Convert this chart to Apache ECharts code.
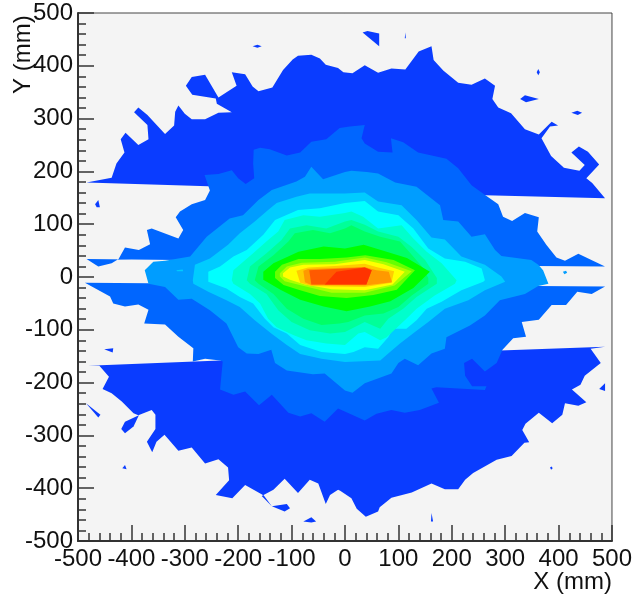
<!DOCTYPE html>
<html>
<head>
<meta charset="utf-8">
<style>html,body{margin:0;padding:0;background:#fff}#c{width:635px;height:599px}</style>
<script src="https://cdn.jsdelivr.net/npm/echarts@6/dist/echarts.min.js"></script>
</head>
<body>
<div id="c"></div>
<script>
const xTicks = [-500,500,100];
const yTicks = [-500,500,100];

const band1Top = [[-484,179],[-437,188],[-428,215],[-413,236],[-420,261],[-411,273],[-387,250],[-368,261],[-370,288],[-395,312],[-387,321],[-370,307],[-337,271],[-320,287],[-318,313],[-312,325],[-300,309],[-287,299],[-262,299],[-237,311],[-212,312],[-240,328],[-242,338],[-286,345],[-298,362],[-287,379],[-262,383],[-237,340],[-203,362],[-212,388],[-187,384],[-173,361],[-162,352],[-136,359],[-116,392],[-98,412],[-88,419],[-63,421],[-47,414],[-36,402],[-13,396],[-3,388],[14,386],[37,401],[62,387],[87,395],[113,393],[138,427],[162,437],[166,411],[184,391],[212,368],[237,364],[262,376],[281,362],[276,337],[287,321],[311,310],[337,280],[363,270],[387,294],[399,287],[384,285],[368,263],[386,229],[410,207],[439,201],[449,212],[424,236],[438,247],[455,237],[476,213],[452,187],[463,178],[487,149],[263,155],[-256,172]];
const band1Bottom = [[487,-132],[460,-136],[479,-163],[449,-187],[441,-204],[425,-213],[452,-237],[437,-244],[412,-239],[407,-261],[388,-277],[363,-257],[338,-278],[332,-290],[345,-313],[336,-314],[312,-339],[284,-346],[240,-371],[225,-384],[212,-402],[187,-402],[162,-391],[125,-408],[87,-418],[65,-436],[62,-444],[39,-454],[22,-439],[12,-419],[-9,-405],[-13,-403],[-28,-413],[-36,-430],[-50,-391],[-66,-384],[-88,-409],[-113,-382],[-134,-403],[-156,-415],[-137,-434],[-152,-414],[-187,-394],[-211,-419],[-242,-413],[-217,-385],[-219,-361],[-237,-345],[-262,-353],[-287,-323],[-312,-329],[-338,-299],[-353,-312],[-361,-332],[-371,-312],[-355,-288],[-355,-261],[-362,-252],[-387,-262],[-396,-258],[-418,-236],[-437,-220],[-454,-212],[-442,-189],[-460,-168],[-481,-168],[-234,-158]];
const island1 = [[-386,-262],[-396,-283],[-412,-296],[-419,-288],[-412,-274]];
const island2 = [[-137,-434],[-109,-430],[-103,-438],[-113,-444]];
const island3 = [[-485,-239],[-458,-261],[-462,-266]];
const island4 = [[-451,-137],[-434,-135],[-435,-143]];
const island5 = [[-417,-362],[-412,-356],[-409,-364]];
const island6 = [[-78,-463],[-63,-455],[-54,-463],[-63,-465]];
const island7 = [[162,-447],[165,-463],[161,-463]];
const island8 = [[384,-361],[387,-359],[389,-362],[386,-365]];
const island9 = [[476,-212],[487,-201],[487,-216]];
const island10 = [[-468,138],[-462,146],[-459,132],[-465,132]];
const island11 = [[-173,437],[-164,440],[-156,437],[-164,434]];
const island12 = [[33,463],[42,466],[64,461],[64,437]];
const island13 = [[113,463],[114,452],[112,452]];
const island14 = [[362,394],[365,388],[362,382],[359,388]];
const island15 = [[328,337],[337,344],[363,337],[339,331]];
const island16 = [[424,311],[435,315],[444,311],[436,307]];

const band2Top = [[-484,34],[-462,20],[-437,26],[-424,34],[-412,56],[-386,51],[-365,62],[-371,89],[-362,92],[-312,73],[-303,89],[-317,113],[-309,124],[-287,138],[-262,146],[-253,164],[-263,193],[-237,195],[-212,202],[-200,187],[-186,176],[-170,187],[-172,215],[-171,241],[-159,245],[-141,242],[-109,230],[-84,236],[-63,256],[-35,261],[-10,282],[9,285],[37,288],[31,263],[37,253],[62,237],[89,236],[86,263],[109,255],[137,236],[190,224],[212,206],[237,174],[263,155],[287,138],[296,114],[313,106],[337,121],[363,113],[360,86],[377,61],[396,37],[412,31],[437,44],[487,20],[359,21],[-315,32]];
const band2Bottom = [[-487,-11],[-440,-37],[-434,-50],[-412,-56],[-387,-52],[-368,-62],[-376,-88],[-337,-90],[-312,-113],[-284,-135],[-285,-160],[-262,-155],[-234,-158],[-229,-160],[-234,-213],[-209,-223],[-187,-217],[-161,-243],[-137,-223],[-106,-257],[-84,-264],[-63,-258],[-38,-274],[-13,-249],[9,-259],[37,-272],[59,-259],[87,-252],[112,-257],[140,-252],[176,-238],[162,-211],[171,-209],[262,-214],[265,-207],[238,-207],[225,-187],[223,-163],[238,-155],[262,-179],[284,-163],[295,-138],[315,-116],[339,-113],[331,-85],[363,-81],[387,-53],[414,-53],[435,-28],[462,-32],[487,-18],[359,-17],[-368,-12]];

const band3 = [[-375,13],[-359,29],[-337,31],[-290,39],[-259,76],[-216,111],[-191,117],[-162,146],[-137,165],[-91,181],[-75,190],[-63,209],[-41,185],[0,199],[12,201],[41,199],[62,196],[94,179],[134,171],[178,136],[184,108],[212,105],[237,76],[262,81],[281,51],[293,40],[349,32],[362,23],[371,13],[381,-13],[362,-17],[337,-32],[290,-44],[262,-73],[234,-92],[190,-114],[187,-136],[162,-145],[137,-167],[112,-155],[100,-163],[87,-183],[37,-201],[14,-219],[0,-215],[-38,-183],[-60,-184],[-109,-177],[-131,-163],[-138,-138],[-162,-146],[-184,-145],[-200,-133],[-222,-88],[-253,-63],[-287,-41],[-312,-43],[-337,-19],[-368,-13]];
const band3Dot = [[408,10],[414,12],[416,8],[411,5]];
const band4 = [[-285,-6],[-281,23],[-253,35],[-219,61],[-197,83],[-169,105],[-144,127],[-128,140],[-91,152],[-66,158],[-25,158],[0,158],[37,160],[62,143],[106,136],[134,108],[162,75],[187,71],[218,39],[262,23],[293,1],[300,-9],[262,-25],[231,-44],[187,-60],[156,-85],[131,-104],[103,-126],[81,-145],[66,-158],[0,-161],[-44,-155],[-84,-146],[-109,-129],[-138,-107],[-169,-82],[-197,-57],[-222,-44],[-256,-28],[-284,-13]];
const band4Dot = [[-316,13],[-304,14],[-303,11],[-314,11]];
const band5 = [[-256,-6],[-256,10],[-234,20],[-209,39],[-184,51],[-153,80],[-131,108],[-88,127],[-47,130],[0,140],[37,144],[62,124],[100,117],[128,92],[156,54],[187,35],[225,29],[256,16],[262,-6],[259,-9],[218,-25],[181,-47],[153,-60],[134,-82],[115,-98],[90,-98],[81,-114],[62,-136],[37,-133],[16,-142],[0,-146],[-44,-142],[-84,-129],[-109,-107],[-134,-95],[-150,-79],[-172,-50],[-197,-38],[-222,-22],[-256,-9]];
const band6 = [[-212,-6],[-209,13],[-172,45],[-144,70],[-125,86],[-113,108],[-78,117],[-47,114],[0,121],[12,124],[34,114],[62,92],[106,98],[128,73],[153,48],[181,26],[209,-6],[206,-13],[168,-35],[134,-60],[115,-79],[78,-114],[66,-120],[37,-104],[25,-107],[0,-129],[-35,-126],[-72,-120],[-97,-110],[-128,-95],[-144,-79],[-159,-50],[-178,-32],[-209,-13]];
const band7 = [[-184,-6],[-178,20],[-147,45],[-119,70],[-103,92],[-72,98],[-35,92],[0,105],[12,108],[37,99],[62,86],[100,76],[125,57],[150,32],[172,-2],[172,-13],[134,-38],[109,-60],[81,-79],[66,-98],[37,-85],[12,-98],[0,-104],[-28,-107],[-66,-101],[-100,-85],[-125,-63],[-147,-32],[-178,-13]];
const band8 = [[-169,-6],[-162,20],[-134,41],[-106,67],[-94,83],[-60,89],[-28,83],[0,92],[12,98],[37,86],[66,76],[103,67],[125,42],[144,20],[156,-2],[156,-13],[125,-35],[100,-57],[72,-69],[37,-73],[6,-85],[-10,-88],[-44,-91],[-78,-79],[-109,-60],[-134,-32],[-162,-13]];
const band9 = [[-153,10],[-134,26],[-87,48],[-40,58],[0,54],[35,61],[78,48],[116,36],[159,10],[128,-21],[85,-46],[47,-56],[3,-65],[-40,-56],[-84,-43],[-121,-24],[-153,-5]];
const band10 = [[-131,10],[-118,23],[-87,34],[-47,34],[3,37],[38,41],[91,32],[131,13],[97,-24],[53,-34],[3,-40],[-47,-36],[-87,-24],[-115,-15],[-131,-2]];
const band11 = [[-122,7],[-109,20],[-81,27],[-19,29],[37,37],[78,28],[125,11],[93,-16],[37,-30],[-25,-30],[-81,-16],[-113,-8],[-122,1]];
const band12 = [[-116,7],[-103,18],[-78,23],[-19,24],[37,32],[72,24],[112,10],[89,-14],[37,-25],[-25,-23],[-75,-14],[-103,-5],[-116,1]];
const band13 = [[-91,12],[-69,18],[-19,21],[37,25],[62,18],[92,11],[87,-11],[37,-19],[-25,-18],[-63,-17],[-84,-11]];
const band14 = [[-78,12],[-69,15],[37,19],[59,13],[82,10],[88,-10],[37,-16],[-63,-15],[-75,-10]];
const band15 = [[-67,13],[37,18],[50,13],[40,-14],[-63,-14]];
const band16 = [[-16,10],[37,18],[50,13],[40,-14],[-38,-14]];

const palette = ['#0a3cff','#0066ff','#009dff','#00ccff','#00ffff','#00ffcc','#00ff99','#00ff66','#00ff00','#66ff00','#aaff00','#ffff00','#ffcc00','#ff9900','#ff5a00','#ff3300'];

const layers = [
  [band1Top,0],[band1Bottom,0],[island1,0],[island2,0],[island3,0],[island4,0],[island5,0],[island6,0],[island7,0],[island8,0],[island9,0],[island10,0],[island11,0],[island12,0],[island13,0],[island14,0],[island15,0],[island16,0],
  [band2Top,1],[band2Bottom,1],[band3,2],[band3Dot,2],[band4,3],[band4Dot,3],[band5,4],[band6,5],[band7,6],[band8,7],[band9,8],[band10,9],[band11,10],[band12,11],[band13,12],[band14,13],[band15,14],[band16,15]
];

const chart = echarts.init(document.getElementById('c'), null, {renderer:'canvas'});
const labelFont = {color:'#111', fontFamily:'Liberation Sans, Arial, sans-serif', fontSize:24};
function axis(extra, t){
  return Object.assign({
    type:'value', min:t[0], max:t[1], interval:t[2],
    axisLine:{show:true, onZero:false, lineStyle:{color:'#333', width:2}},
    axisTick:{show:true, inside:true, length:16, lineStyle:{color:'#333', width:1.5}},
    minorTick:{show:true, splitNumber:5, length:8, lineStyle:{color:'#333', width:1.5}},
    splitLine:{show:false}, minorSplitLine:{show:false}
  }, extra);
}
chart.setOption({
  animation:false,
  grid:{left:78, top:13, width:534, height:528, show:true, backgroundColor:'#f4f4f4', borderColor:'#444', borderWidth:1, containLabel:false},
  xAxis: axis({axisLabel:Object.assign({margin:6, hideOverlap:false, showMinLabel:true, showMaxLabel:true, alignMinLabel:'center', alignMaxLabel:'center'}, labelFont)}, xTicks),
  yAxis: axis({axisLabel:Object.assign({margin:5, hideOverlap:false, showMinLabel:true, showMaxLabel:true, verticalAlignMinLabel:'middle', verticalAlignMaxLabel:'middle'}, labelFont)}, yTicks),
  graphic:[
    {type:'text', right:23, top:570, style:{text:'X (mm)', fill:'#111', font:'24px "Liberation Sans", Arial, sans-serif'}},
    {type:'text', x:11, y:94, rotation:Math.PI/2, style:{text:'Y (mm)', fill:'#111', font:'24px "Liberation Sans", Arial, sans-serif'}}
  ],
  series: layers.map(function(layer){
    return {
      type:'custom', coordinateSystem:'cartesian2d', clip:true, silent:true,
      data: layer[0],
      encode:{x:0,y:1},
      renderItem:function(params, api){
        if(params.dataIndex!==0) return null;
        return {type:'polygon', shape:{points:layer[0].map(function(p){return api.coord(p);})},
                style:{fill:palette[layer[1]], stroke:null}};
      }
    };
  })
});
</script>
</body>
</html>
